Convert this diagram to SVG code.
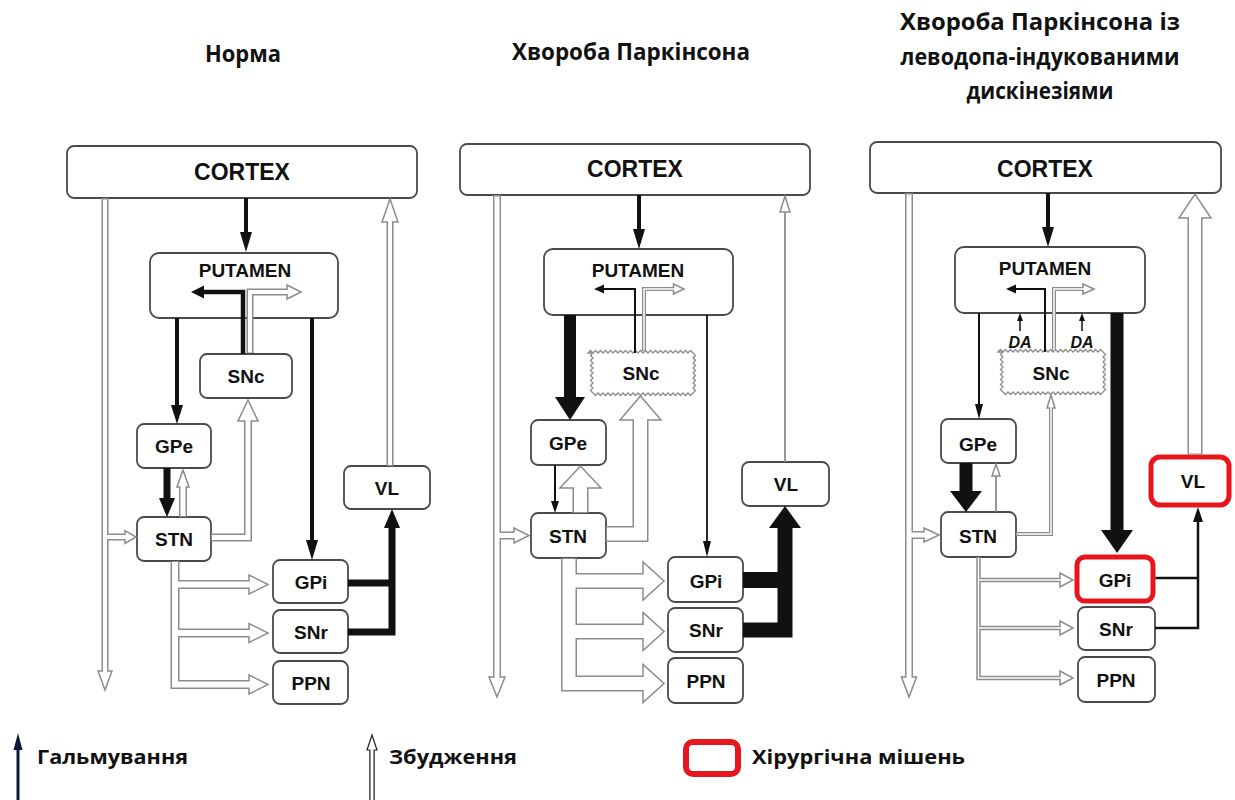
<svg xmlns="http://www.w3.org/2000/svg" xmlns:xlink="http://www.w3.org/1999/xlink" width="1235" height="800" viewBox="0 0 1235 800">
<style>
.box{fill:#fff;stroke:#4a4a4a;stroke-width:1.8}
.red{fill:#fff;stroke:#e8161c;stroke-width:5}
.zig{fill:#fff;stroke:#8c8c8c;stroke-width:1.3}
.lbl{font-family:"Liberation Sans",Arial,sans-serif;font-weight:bold;font-size:19px;fill:#111;text-anchor:middle}
.big{font-size:23px}
.da{font-size:16px;font-style:italic}
.ttl{font-family:"Open Sans","Noto Sans","DejaVu Sans",sans-serif;font-weight:bold;font-size:23px;fill:#111;text-anchor:middle}
.leg{font-family:"Open Sans","Noto Sans","DejaVu Sans",sans-serif;font-weight:bold;font-size:19px;fill:#111}
.k{stroke:#111;fill:none;stroke-linejoin:miter}
.kh{fill:#111}
.po{stroke:#8c8c8c;fill:none;stroke-linejoin:miter}
.pi{stroke:#fff;fill:none;stroke-linejoin:miter}
.oh{fill:#fff;stroke:#8c8c8c;stroke-width:1.5}
</style>
<defs>
<path id="zig" class="zig" d="M0,0l2.5,-2.5 2.5,2.5 2.5,-2.5 2.5,2.5 2.5,-2.5 2.5,2.5 2.5,-2.5 2.5,2.5 2.5,-2.5 2.5,2.5 2.5,-2.5 2.5,2.5 2.5,-2.5 2.5,2.5 2.5,-2.5 2.5,2.5 2.5,-2.5 2.5,2.5 2.5,-2.5 2.5,2.5 2.5,-2.5 2.5,2.5 2.5,-2.5 2.5,2.5 2.5,-2.5 2.5,2.5 2.5,-2.5 2.5,2.5 2.5,-2.5 2.5,2.5 2.5,-2.5 2.5,2.5 2.5,-2.5 2.5,2.5 2.5,-2.5 2.5,2.5 2.5,-2.5 2.5,2.5 2.5,-2.5 2.5,2.5 2.5,-2.5 2.5,2.5 2.5,2.5 -2.5,2.5 2.5,2.5 -2.5,2.5 2.5,2.5 -2.5,2.5 2.5,2.5 -2.5,2.5 2.5,2.5 -2.5,2.5 2.5,2.5 -2.5,2.5 2.5,2.5 -2.5,2.5 2.5,2.5 -2.5,2.5 -2.5,2.5 -2.5,-2.5 -2.5,2.5 -2.5,-2.5 -2.5,2.5 -2.5,-2.5 -2.5,2.5 -2.5,-2.5 -2.5,2.5 -2.5,-2.5 -2.5,2.5 -2.5,-2.5 -2.5,2.5 -2.5,-2.5 -2.5,2.5 -2.5,-2.5 -2.5,2.5 -2.5,-2.5 -2.5,2.5 -2.5,-2.5 -2.5,2.5 -2.5,-2.5 -2.5,2.5 -2.5,-2.5 -2.5,2.5 -2.5,-2.5 -2.5,2.5 -2.5,-2.5 -2.5,2.5 -2.5,-2.5 -2.5,2.5 -2.5,-2.5 -2.5,2.5 -2.5,-2.5 -2.5,2.5 -2.5,-2.5 -2.5,2.5 -2.5,-2.5 -2.5,2.5 -2.5,-2.5 -2.5,-2.5 2.5,-2.5 -2.5,-2.5 2.5,-2.5 -2.5,-2.5 2.5,-2.5 -2.5,-2.5 2.5,-2.5 -2.5,-2.5 2.5,-2.5 -2.5,-2.5 2.5,-2.5 -2.5,-2.5 2.5,-2.5 -2.5,-2.5 2.5,-2.5z"/>
</defs>
<rect width="1235" height="800" fill="#fff"/>

<g id="titles">
<text class="ttl" x="243" y="62" textLength="76" lengthAdjust="spacingAndGlyphs">Норма</text>
<text class="ttl" x="631" y="60" textLength="238" lengthAdjust="spacingAndGlyphs">Хвороба Паркінсона</text>
<text class="ttl" x="1040" y="30" textLength="280" lengthAdjust="spacingAndGlyphs">Хвороба Паркінсона із</text>
<text class="ttl" x="1040" y="65" textLength="279" lengthAdjust="spacingAndGlyphs">леводопа-індукованими</text>
<text class="ttl" x="1040" y="99" textLength="147" lengthAdjust="spacingAndGlyphs">дискінезіями</text>
</g>

<!-- Panel 1 nodes -->
<g id="p1-cortex"><rect class="box" x="67" y="146" width="350" height="52" rx="7"/><text class="lbl big" x="242" y="180">CORTEX</text></g>
<g id="p1-putamen"><rect class="box" x="150" y="253" width="188" height="65" rx="9"/><text class="lbl" x="245" y="277">PUTAMEN</text></g>
<g id="p1-snc"><rect class="box" x="200" y="354" width="92" height="44" rx="7"/><text class="lbl" x="246" y="383">SNc</text></g>
<g id="p1-gpe"><rect class="box" x="137" y="424" width="74" height="44" rx="7"/><text class="lbl" x="174" y="453">GPe</text></g>
<g id="p1-stn"><rect class="box" x="137" y="517" width="74" height="44" rx="7"/><text class="lbl" x="174" y="546">STN</text></g>
<g id="p1-vl"><rect class="box" x="344" y="466" width="86" height="43" rx="7"/><text class="lbl" x="387" y="494.5">VL</text></g>
<g id="p1-gpi"><rect class="box" x="273" y="560" width="75" height="43" rx="7"/><text class="lbl" x="311" y="588.5">GPi</text></g>
<g id="p1-snr"><rect class="box" x="273" y="610" width="75" height="43" rx="7"/><text class="lbl" x="311" y="639">SNr</text></g>
<g id="p1-ppn"><rect class="box" x="273" y="661" width="75" height="43" rx="7"/><text class="lbl" x="311" y="690">PPN</text></g>

<!-- Panel 2 nodes -->
<g id="p2-cortex"><rect class="box" x="460" y="144" width="350" height="51" rx="7"/><text class="lbl big" x="635" y="177">CORTEX</text></g>
<g id="p2-putamen"><rect class="box" x="544" y="249" width="189" height="66" rx="9"/><text class="lbl" x="638" y="277">PUTAMEN</text></g>
<g id="p2-snc"><use xlink:href="#zig" href="#zig" x="588" y="353"/><text class="lbl" x="641" y="380">SNc</text></g>
<g id="p2-gpe"><rect class="box" x="531" y="420" width="75" height="45" rx="7"/><text class="lbl" x="568" y="450">GPe</text></g>
<g id="p2-stn"><rect class="box" x="531" y="513" width="75" height="45" rx="7"/><text class="lbl" x="568" y="543">STN</text></g>
<g id="p2-vl"><rect class="box" x="742" y="462" width="87" height="44" rx="7"/><text class="lbl" x="786" y="491">VL</text></g>
<g id="p2-gpi"><rect class="box" x="668" y="557" width="75" height="45" rx="7"/><text class="lbl" x="706" y="588">GPi</text></g>
<g id="p2-snr"><rect class="box" x="668" y="608" width="75" height="44" rx="7"/><text class="lbl" x="706" y="637">SNr</text></g>
<g id="p2-ppn"><rect class="box" x="668" y="658" width="75" height="45" rx="7"/><text class="lbl" x="706" y="688">PPN</text></g>

<!-- Panel 3 nodes -->
<g id="p3-cortex"><rect class="box" x="870" y="142" width="351" height="51" rx="7"/><text class="lbl big" x="1045" y="177">CORTEX</text></g>
<g id="p3-putamen"><rect class="box" x="955" y="247" width="190" height="66" rx="9"/><text class="lbl" x="1045" y="275">PUTAMEN</text></g>
<g id="p3-snc"><use xlink:href="#zig" href="#zig" x="998" y="352"/><text class="lbl" x="1051" y="380">SNc</text></g>
<g id="p3-gpe"><rect class="box" x="941" y="419" width="75" height="44" rx="7"/><text class="lbl" x="978" y="451">GPe</text></g>
<g id="p3-stn"><rect class="box" x="941" y="512" width="75" height="45" rx="7"/><text class="lbl" x="978" y="543">STN</text></g>
<g id="p3-vl"><rect class="red" x="1151" y="457" width="78" height="48" rx="9"/><text class="lbl" x="1193" y="488">VL</text></g>
<g id="p3-gpi"><rect class="red" x="1077" y="557" width="76" height="44" rx="8"/><text class="lbl" x="1115" y="587">GPi</text></g>
<g id="p3-snr"><rect class="box" x="1078" y="607" width="77" height="43" rx="7"/><text class="lbl" x="1116" y="635.5">SNr</text></g>
<g id="p3-ppn"><rect class="box" x="1078" y="657" width="77" height="45" rx="7"/><text class="lbl" x="1116" y="686.5">PPN</text></g>
<g id="p3-da"><text class="lbl da" x="1020" y="348">DA</text><text class="lbl da" x="1082" y="348">DA</text></g>

<g id="connectors">
<!-- ===== Panel 1 excitatory pipes ===== -->
<g stroke-width="7">
<path class="po" d="M105,198V671M105,537H125"/>
<path class="po" d="M390,466V222"/>
<path class="po" d="M250,353V292H287"/>
</g>
<path class="po" stroke-width="8" d="M183,517V487M211,537.5H248V421"/>
<path class="po" stroke-width="9" d="M175,561V684.5H249M175,584.5H249M175,633H249"/>
<polygon class="oh" points="98,671 112,671 105,690"/>
<polygon class="oh" points="125,530.5 125,543.5 136,537"/>
<polygon class="oh" points="382,222 398,222 390,199"/>
<polygon class="oh" points="287,285 287,299 301,292"/>
<polygon class="oh" points="177,487 189,487 183,470"/>
<polygon class="oh" points="238,421 258,421 248,400"/>
<polygon class="oh" points="249,575 249,594 268,584.5"/>
<polygon class="oh" points="249,623.5 249,642.5 268,633"/>
<polygon class="oh" points="249,675 249,694 268,684.5"/>
<g stroke-width="4">
<path class="pi" d="M105,199.5V672.5M105,537H126.5"/>
<path class="pi" d="M390,465V220.5"/>
<path class="pi" d="M250,352.5V292H288.5"/>
</g>
<path class="pi" stroke-width="5" d="M183,516V485.5M212,537.5H248V419.5"/>
<path class="pi" stroke-width="6" d="M175,562V684.5H250.5M175,584.5H250.5M175,633H250.5"/>
<!-- Panel 1 inhibitory -->
<path class="k" stroke-width="4" d="M246,198V234M177,318V407M312,318V542"/>
<path class="k" stroke-width="4.5" d="M243,354V292H204"/>
<path class="k" stroke-width="7" d="M167,468V500M348,583H392M348,632H392V527"/>
<polygon class="kh" points="240,232 252,232 246,252"/>
<polygon class="kh" points="204,285.5 204,298.5 191,292"/>
<polygon class="kh" points="171,405 183,405 177,424"/>
<polygon class="kh" points="306,540 318,540 312,560"/>
<polygon class="kh" points="159,498 175,498 167,517"/>
<polygon class="kh" points="384,528 400,528 392,509"/>

<!-- ===== Panel 2 excitatory ===== -->
<path class="po" stroke-width="8" d="M497,195V677M497,535.5H514"/>
<path class="po" stroke-width="1.8" d="M785,462V211"/>
<path class="po" stroke-width="4" d="M644,351V289H673.5"/>
<path class="po" stroke-width="16" d="M580.5,513V488M606,534H640.5V420M569,558V683.5H643M569,581H643M569,631.5H643"/>
<polygon class="oh" points="489,677 505,677 497,697"/>
<polygon class="oh" points="514,528 514,543 529,535.5"/>
<polygon class="oh" points="780,212 790,212 785,196"/>
<polygon class="oh" points="673.5,284 673.5,294 684,289"/>
<polygon class="oh" points="560,488 601,488 580.5,466"/>
<polygon class="oh" points="620,420 661,420 640.5,396"/>
<polygon class="oh" points="643,562 643,600 664,581"/>
<polygon class="oh" points="643,612.5 643,650.5 664,631.5"/>
<polygon class="oh" points="643,664.5 643,702.5 664,683.5"/>
<path class="pi" stroke-width="5" d="M497,196.5V678.5M497,535.5H515.5"/>
<path class="pi" stroke-width="1.5" d="M644,350.5V289H675"/>
<path class="pi" stroke-width="13" d="M580.5,512V486.5M607,534H640.5V418.5M569,559V683.5H644.5M569,581H644.5M569,631.5H644.5"/>
<!-- Panel 2 inhibitory -->
<path class="k" stroke-width="4" d="M639,195V231"/>
<path class="k" stroke-width="2" d="M635,353V289H603M555,465V502"/>
<path class="k" stroke-width="12" d="M570,315V398"/>
<path class="k" stroke-width="1.8" d="M707,315V542"/>
<path class="k" stroke-width="16" d="M743,580H785"/>
<path class="k" stroke-width="15" d="M743,630H785V527"/>
<polygon class="kh" points="633,229 645,229 639,249"/>
<polygon class="kh" points="604,284.5 604,293.5 594,289"/>
<polygon class="kh" points="555,397 585,397 570,420"/>
<polygon class="kh" points="703,541 711,541 707,557"/>
<polygon class="kh" points="551,501 559,501 555,513"/>
<polygon class="kh" points="769,528 801,528 785,506"/>

<!-- ===== Panel 3 excitatory ===== -->
<path class="po" stroke-width="8" d="M909,193V677M909,535H924"/>
<path class="po" stroke-width="15" d="M1195,454.5V218"/>
<path class="po" stroke-width="4" d="M1054,351V289H1083M1016,534H1051V408"/>
<path class="po" stroke-width="1.8" d="M996,512V476"/>
<path class="po" stroke-width="4.5" d="M978.5,557V678H1060M978.5,580H1060M978.5,628H1060"/>
<polygon class="oh" points="901.5,677 916.5,677 909,697"/>
<polygon class="oh" points="924,528 924,542 939,535"/>
<polygon class="oh" points="1179,218 1211,218 1195,194"/>
<polygon class="oh" points="1083,284 1083,294 1094,289"/>
<polygon class="oh" points="992,476 1000,476 996,464"/>
<polygon class="oh" points="1047,408 1055,408 1051,395"/>
<polygon class="oh" points="1060,573 1060,587 1073,580"/>
<polygon class="oh" points="1060,621 1060,635 1073,628"/>
<polygon class="oh" points="1060,671 1060,685 1073,678"/>
<path class="pi" stroke-width="5" d="M909,194.5V678.5M909,535H925.5"/>
<path class="pi" stroke-width="12" d="M1195,453.5V216.5"/>
<path class="pi" stroke-width="1.5" d="M1054,350.5V289H1084.5M1017,534H1051V406.5"/>
<path class="pi" stroke-width="1.5" d="M978.5,558V678H1061.5M978.5,580H1061.5M978.5,628H1061.5"/>
<!-- Panel 3 inhibitory -->
<path class="k" stroke-width="4" d="M1048,193V229"/>
<path class="k" stroke-width="2" d="M1045,352V289H1015M979,313V405"/>
<path class="k" stroke-width="1.5" d="M1020,331V320M1082,331V320"/>
<path class="k" stroke-width="13" d="M1117,313V531M966,463V492"/>
<path class="k" stroke-width="2.5" d="M1155.5,578H1198M1155,628H1198V521"/>
<polygon class="kh" points="1042,227 1054,227 1048,247"/>
<polygon class="kh" points="1016,284.5 1016,293.5 1006,289"/>
<polygon class="kh" points="1017,321 1023,321 1020,313"/>
<polygon class="kh" points="1079,321 1085,321 1082,313"/>
<polygon class="kh" points="975,404 983,404 979,419"/>
<polygon class="kh" points="1101,530 1133,530 1117,553"/>
<polygon class="kh" points="950,491 982,491 966,512"/>
<polygon class="kh" points="1193,522 1203,522 1198,507"/>
</g>

<g id="legend">
<path d="M18,800V748" stroke="#0c1a33" stroke-width="3" fill="none"/>
<polygon points="13.5,750 22.5,750 18,733" fill="#0c1a33"/>
<text class="leg" x="37" y="764" textLength="151" lengthAdjust="spacingAndGlyphs">Гальмування</text>
<path d="M372,800V750" stroke="#222" stroke-width="5.5" fill="none"/>
<polygon points="367,750 377,750 372,735" fill="#fff" stroke="#222" stroke-width="1.2"/>
<path d="M372,800V748.5" stroke="#fff" stroke-width="3" fill="none"/>
<text class="leg" x="389" y="764" textLength="128" lengthAdjust="spacingAndGlyphs">Збудження</text>
<rect x="686" y="742" width="52" height="32" rx="7" fill="#fff" stroke="#e8161c" stroke-width="6"/>
<text class="leg" x="752" y="764" textLength="213" lengthAdjust="spacingAndGlyphs">Хірургічна мішень</text>
</g>
</svg>
